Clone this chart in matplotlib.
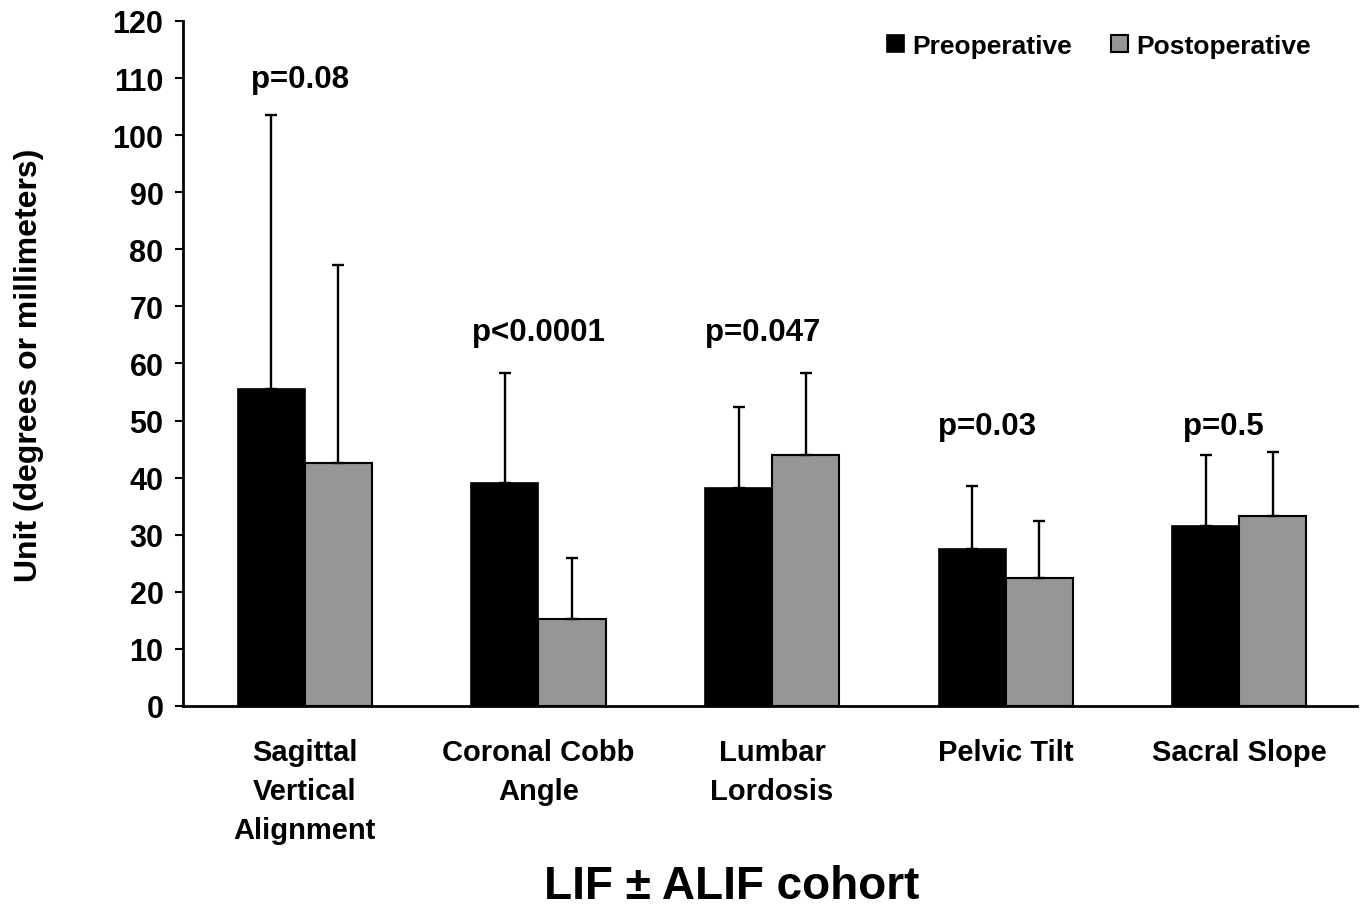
import matplotlib
matplotlib.use("Agg")
import matplotlib.pyplot as plt
import numpy as np

plt.rcParams['font.family'] = ['Liberation Sans', 'DejaVu Sans']
plt.rcParams['font.weight'] = 'bold'

categories = ["Sagittal\nVertical\nAlignment", "Coronal Cobb\nAngle", "Lumbar\nLordosis",
              "Pelvic Tilt", "Sacral Slope"]
pre_mean = [55.5, 39.1, 38.2, 27.5, 31.5]
pre_sd = [48.0, 19.2, 14.2, 11.0, 12.5]
post_mean = [42.6, 15.2, 44.0, 22.4, 33.3]
post_sd = [34.7, 10.7, 14.3, 10.0, 11.2]
p_labels = ["p=0.08", "p<0.0001", "p=0.047", "p=0.03", "p=0.5"]
p_y = [109.8, 65.5, 65.5, 49.0, 49.0]
p_dx = [-0.02, 0.0, -0.04, -0.08, -0.07]

x = np.arange(len(categories))
w = 0.287
gray = "#969696"

fig = plt.figure(figsize=(13.65, 9.12), dpi=100)
ax = fig.add_axes([0.134, 0.2248, 0.86, 0.7511])

ekw = dict(ecolor="black", elinewidth=1.7, capsize=4.2, capthick=1.7)
ax.bar(x - w / 2, pre_mean, w, color="black", edgecolor="black", linewidth=1.2,
       yerr=[np.zeros(len(x)), pre_sd], error_kw=ekw, label="Preoperative", zorder=2)
ax.bar(x + w / 2, post_mean, w, color=gray, edgecolor="black", linewidth=1.5,
       yerr=[np.zeros(len(x)), post_sd], error_kw=ekw, label="Postoperative", zorder=2)

for i, (lab, yy) in enumerate(zip(p_labels, p_y)):
    ax.text(i + p_dx[i], yy, lab, ha="center", va="center", fontsize=22.5, fontweight="bold")

ax.set_xlim(-0.522, 4.503)
ax.set_ylim(0, 120)
ax.set_yticks(np.arange(0, 121, 10))
ax.set_xticks(x)
ax.set_xticklabels(categories, fontsize=21, fontweight="bold", linespacing=1.5)
ax.tick_params(axis="x", length=0, pad=23)
ax.tick_params(axis="y", length=6, width=1.5, labelsize=22, pad=8, direction="out")
for lbl in ax.get_yticklabels():
    lbl.set_fontweight("bold")
ax.spines["top"].set_visible(False)
ax.spines["right"].set_visible(False)
ax.spines["left"].set_linewidth(2)
ax.spines["bottom"].set_linewidth(2)

fig.text(0.021, 0.5998, "Unit (degrees or millimeters)", rotation=90, ha="center",
         va="center", fontsize=23, fontweight="bold")

leg = ax.legend(loc="upper right", bbox_to_anchor=(0.97, 0.997), ncol=2, frameon=False,
                fontsize=19, handlelength=0.65, handleheight=0.65, handletextpad=0.3,
                columnspacing=1.5, borderaxespad=0)
for t in leg.get_texts():
    t.set_fontweight("bold")

fig.text(0.536, 0.027, "LIF \u00b1 ALIF cohort", ha="center", va="center",
         fontsize=33, fontweight="bold")

fig.savefig("out.png", dpi=100)
